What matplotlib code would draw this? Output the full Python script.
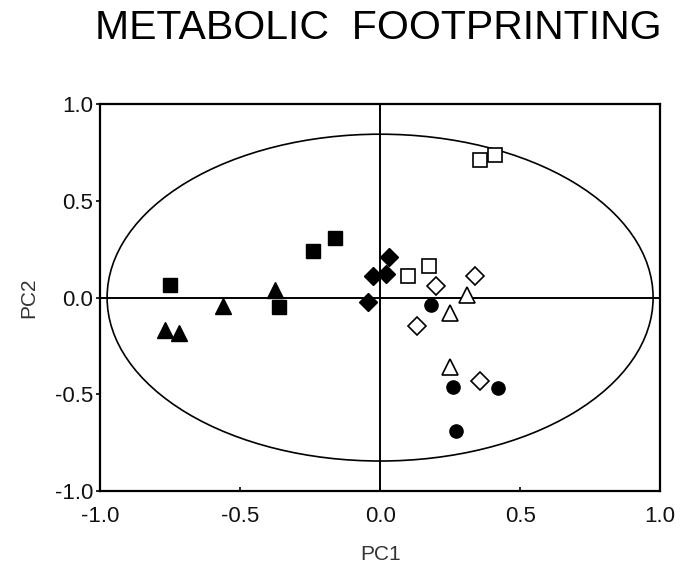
import matplotlib
matplotlib.use("Agg")
import matplotlib.pyplot as plt
from matplotlib.patches import Ellipse

plt.rcParams['font.family'] = ['Liberation Sans', 'DejaVu Sans']

# Data (PC1, PC2)
sq_filled_x = [-0.75, -0.24, -0.16, -0.36]
sq_filled_y = [0.065, 0.24, 0.31, -0.05]

tri_filled_x = [-0.77, -0.72, -0.56, -0.375]
tri_filled_y = [-0.165, -0.185, -0.045, 0.04]

dia_filled_x = [0.03, -0.025, 0.02, -0.045]
dia_filled_y = [0.21, 0.11, 0.12, -0.025]

sq_open_x = [0.355, 0.41, 0.10, 0.175]
sq_open_y = [0.71, 0.74, 0.11, 0.165]

dia_open_x = [0.20, 0.34, 0.13, 0.355]
dia_open_y = [0.06, 0.11, -0.145, -0.43]

tri_open_x = [0.31, 0.25, 0.25]
tri_open_y = [0.015, -0.08, -0.36]

circ_filled_x = [0.18, 0.26, 0.42, 0.27]
circ_filled_y = [-0.04, -0.46, -0.465, -0.69]

ellipse_width = 1.95
ellipse_height = 1.69

xticks = [-1.0, -0.5, 0.0, 0.5, 1.0]
yticks = [-1.0, -0.5, 0.0, 0.5, 1.0]

fig = plt.figure(figsize=(7.0, 5.79), dpi=100)
ax = fig.add_axes([0.143, 0.152, 0.800, 0.668])

ax.set_xlim(-1, 1)
ax.set_ylim(-1, 1)

ax.axhline(0, color='black', lw=1.4, zorder=1)
ax.axvline(0, color='black', lw=1.4, zorder=1)
ax.add_patch(Ellipse((0, 0), ellipse_width, ellipse_height, fill=False,
                     edgecolor='black', lw=1.2, zorder=1))

ax.plot(sq_filled_x, sq_filled_y, ls='none', marker='s', ms=9.5,
        mfc='black', mec='black', zorder=3)
ax.plot(tri_filled_x, tri_filled_y, ls='none', marker='^', ms=12,
        mfc='black', mec='black', zorder=3)
ax.plot(dia_filled_x, dia_filled_y, ls='none', marker='D', ms=9,
        mfc='black', mec='black', zorder=3)
ax.plot(sq_open_x, sq_open_y, ls='none', marker='s', ms=9.5,
        mfc='white', mec='black', mew=1.2, zorder=3)
ax.plot(dia_open_x, dia_open_y, ls='none', marker='D', ms=9,
        mfc='white', mec='black', mew=1.2, zorder=3)
ax.plot(tri_open_x, tri_open_y, ls='none', marker='^', ms=12,
        mfc='white', mec='black', mew=1.2, zorder=3)
ax.plot(circ_filled_x, circ_filled_y, ls='none', marker='o', ms=9.5,
        mfc='black', mec='black', zorder=3)

for s in ax.spines.values():
    s.set_linewidth(1.6)

ax.set_xticks(xticks)
ax.set_yticks(yticks)
ax.set_xticklabels([f"{v:.1f}" for v in xticks])
ax.set_yticklabels([f"{v:.1f}" for v in yticks])
ax.tick_params(axis='both', labelsize=16, length=3, width=1.2, color='black',
               labelcolor='#111111')
ax.tick_params(axis='x', direction='in', pad=11)
ax.tick_params(axis='y', direction='out', pad=2)

ax.set_xlabel('PC1', fontsize=15, labelpad=13, color='#333333')
ax.set_ylabel('PC2', fontsize=15, labelpad=12, color='#333333')

fig.text(0.54, 0.985, 'METABOLIC  FOOTPRINTING', fontsize=29.5,
         ha='center', va='top')

fig.savefig('out.png', dpi=100)
